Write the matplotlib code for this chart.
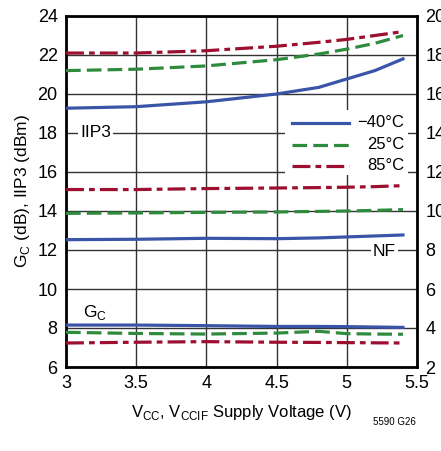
import matplotlib
matplotlib.use("Agg")
import matplotlib.pyplot as plt
from matplotlib.patches import Rectangle

plt.rcParams['font.family'] = ['Liberation Sans', 'DejaVu Sans']

# data
vcc = [3.0, 3.5, 4.0, 4.5, 4.8, 5.0, 5.2, 5.4]
iip3_m40 = [19.27, 19.35, 19.6, 20.0, 20.34, 20.77, 21.2, 21.8]
iip3_25 = [21.2, 21.27, 21.44, 21.76, 22.05, 22.3, 22.6, 23.0]
iip3_85 = [22.1, 22.1, 22.22, 22.45, 22.65, 22.8, 23.0, 23.2]

nf_m40 = [12.53, 12.55, 12.6, 12.58, 12.62, 12.67, 12.72, 12.77]
nf_25 = [13.88, 13.9, 13.93, 13.95, 13.98, 14.0, 14.03, 14.07]
nf_85 = [15.1, 15.1, 15.15, 15.18, 15.2, 15.22, 15.25, 15.3]

gc_m40 = [8.15, 8.15, 8.12, 8.08, 8.08, 8.07, 8.05, 8.03]
gc_25 = [7.78, 7.72, 7.69, 7.74, 7.83, 7.71, 7.69, 7.68]
gc_85 = [7.23, 7.27, 7.3, 7.27, 7.26, 7.25, 7.24, 7.23]

temps = ["\u221240\u00b0C", "25\u00b0C", "85\u00b0C"]
colors = ["#3a55a8", "#2e8b3e", "#9c0f2e"]
styles = ["-", (0, (4.6, 1.9)), (0, (5.6, 1.6, 1.8, 1.6))]

fig = plt.figure(figsize=(4.41, 4.51), dpi=100)
ax = fig.add_axes([66/441, 1-367/451, (417-66)/441, (367-16)/451])

ax.set_xlim(3, 5.5)
ax.set_ylim(6, 24)
ax.set_xticks([3, 3.5, 4, 4.5, 5, 5.5])
ax.set_xticklabels(["3", "3.5", "4", "4.5", "5", "5.5"])
ax.set_yticks(range(6, 25, 2))
ax.grid(True, color="#333333", lw=1.0)
ax.set_axisbelow(True)
for s in ax.spines.values():
    s.set_linewidth(2)
ax.tick_params(length=0, labelsize=13, pad=6)

groups = [(iip3_m40, nf_m40, gc_m40), (iip3_25, nf_25, gc_25), (iip3_85, nf_85, gc_85)]
for (a, b, g), c, ls in zip(groups, colors, styles):
    ax.plot(vcc, a, color=c, ls=ls, lw=2.3, zorder=3)
    ax.plot(vcc, b, color=c, ls=ls, lw=2.3, zorder=3)
    ax.plot(vcc, g, color=c, ls=ls, lw=2.3, zorder=3)

ax2 = ax.twinx()
ax2.set_ylim(2, 20)
ax2.set_yticks(range(2, 21, 2))
ax2.tick_params(length=0, labelsize=13, pad=6)
for s in ax2.spines.values():
    s.set_visible(False)

# legend drawn in axes coordinates
def axx(px):
    return (px - 66) / 351
def axy(py):
    return (367 - py) / 351

ax.add_patch(Rectangle((axx(285), axy(175)), axx(408) - axx(285), axy(110) - axy(175),
                       transform=ax.transAxes, facecolor="white", edgecolor="none", zorder=5))
for i, (c, ls, lab) in enumerate(zip(colors, styles, temps)):
    yy = axy([123, 145, 166][i])
    ax.plot([axx(292), axx(349)], [yy, yy], transform=ax.transAxes, color=c, ls=ls,
            lw=2.3, zorder=6)
    ax.text(axx(404), yy, lab, transform=ax.transAxes, fontsize=12, ha="right",
            va="center", zorder=6)

bb = dict(facecolor="white", edgecolor="none", pad=1.5)
ax.text(3.1, 18, "IIP3", fontsize=12.5, va="center", ha="left", bbox=bb, zorder=6)
ax.text(5.35, 11.9, "NF", fontsize=12.5, va="center", ha="right", bbox=bb, zorder=6)
ax.text(3.12, 8.8, "G$_\\mathregular{C}$", fontsize=12.5, va="center", ha="left", zorder=6)

ax.set_ylabel("G$_\\mathregular{C}$ (dB), IIP3 (dBm)", fontsize=12.5, labelpad=4)
ax.set_xlabel("V$_\\mathregular{CC}$, V$_\\mathregular{CCIF}$ Supply Voltage (V)", fontsize=12, labelpad=8)

fig.text(416/441, 1-422/451, "5590 G26", fontsize=7, ha="right", va="center")

fig.savefig("out.png", dpi=100)
